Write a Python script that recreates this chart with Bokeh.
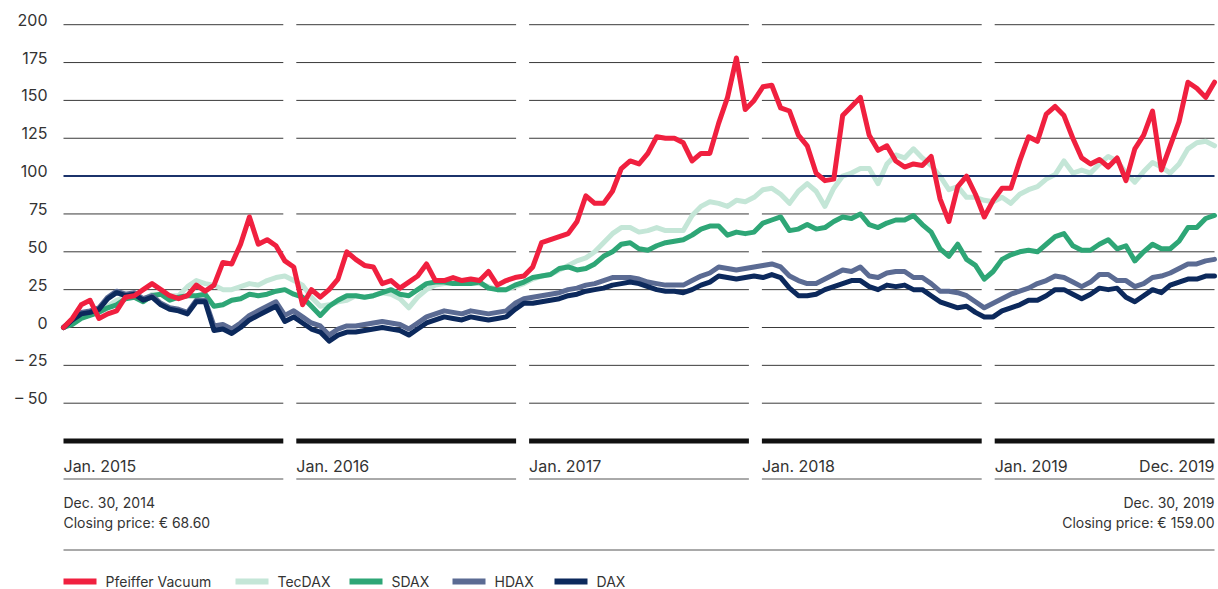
import pandas as pd
from bokeh.plotting import figure
from bokeh.models import Range1d
from bokeh.core.properties import value
from bokeh.embed import file_html
from bokeh.resources import INLINE

# ---------------- data (indexed to 0 % on Dec. 30, 2014) ----------------
dates = pd.date_range("2014-12-30", "2019-12-30", periods=131)

pfeiffer = [0, 6, 15, 18, 6, 9, 11, 20, 21, 25, 29, 25, 21, 19, 21, 28, 24, 28, 43, 42, 55, 73, 55, 58, 54, 44,
            40,
            15, 25, 20, 25, 32, 50, 45, 41, 40, 29, 31, 26, 30, 34, 42, 31, 31, 33, 31, 32, 31, 37, 28, 31, 33,
            34,
            40, 56, 58, 60, 62, 70, 87, 82, 82, 90, 105, 110, 108, 115, 126, 125, 125, 122, 110, 115, 115, 135, 152, 178, 144, 150,
            159,
            160, 145, 143, 127, 120, 102, 97, 98, 140, 146, 152, 127, 117, 120, 110, 106, 108, 107, 113, 85, 70, 93, 100, 88, 73,
            84,
            92, 92, 110, 126, 123, 141, 146, 140, 125, 112, 108, 111, 106, 112, 97, 118, 127, 143, 104, 120, 136, 162, 158, 152, 162]

tecdax = [0, 4, 9, 10, 11, 14, 18, 20, 20, 18, 22, 22, 21, 21, 27, 31, 29, 28, 25, 25, 27, 29, 28, 31, 33, 34,
          31,
          28, 20, 14, 15, 17, 18, 21, 20, 21, 23, 22, 19, 13, 20, 25, 28, 29, 29, 29, 29, 29, 27, 25, 25, 27,
          29,
          32, 34, 35, 38, 41, 44, 46, 50, 56, 62, 66, 66, 63, 64, 66, 64, 64, 64, 74, 80, 83, 82, 80, 84, 83, 86,
          91,
          92, 88, 82, 90, 95, 90, 80, 92, 100, 102, 105, 105, 95, 108, 114, 112, 118, 112, 107, 100, 91, 93, 86, 86, 84,
          83,
          86, 82, 88, 91, 93, 98, 101, 110, 102, 104, 102, 108, 113, 110, 102, 96, 103, 109, 106, 102, 108, 118, 122, 123, 120]

sdax = [0, 2, 6, 8, 10, 13, 15, 19, 20, 17, 21, 22, 18, 20, 21, 21, 22, 14, 15, 18, 19, 22, 21, 22, 24, 25,
        22,
        20, 14, 8, 14, 18, 21, 21, 20, 21, 23, 25, 22, 21, 25, 29, 30, 30, 29, 29, 29, 30, 26, 25, 25, 28,
        30,
        33, 34, 35, 39, 40, 38, 39, 42, 47, 50, 55, 56, 52, 51, 54, 56, 57, 58, 61, 65, 67, 67, 61, 63, 62, 63,
        69,
        71, 73, 64, 65, 68, 65, 66, 70, 73, 72, 75, 68, 66, 69, 71, 71, 74, 68, 63, 52, 47, 55, 45, 41, 32,
        37,
        45, 48, 50, 51, 50, 55, 60, 62, 54, 51, 51, 55, 58, 52, 54, 44, 50, 55, 52, 52, 57, 66, 66, 72, 74]

hdax = [0, 5, 10, 11, 13, 20, 24, 22, 23, 19, 21, 16, 13, 12, 10, 18, 18, 1, 2, -1, 3, 8, 11, 14, 17, 8,
        11,
        7, 3, 1, -5, -1, 1, 1, 2, 3, 4, 3, 2, -1, 3, 7, 9, 11, 10, 9, 11, 10, 9, 10, 11, 16,
        19,
        20, 21, 22, 23, 25, 26, 28, 29, 31, 33, 33, 33, 32, 30, 29, 28, 28, 28, 31, 34, 36, 40, 39, 38, 39, 40,
        41,
        42, 40, 34, 31, 29, 29, 32, 35, 38, 37, 40, 34, 33, 36, 37, 37, 33, 33, 29, 24, 24, 23, 21, 17, 13,
        16,
        19, 22, 24, 26, 29, 31, 34, 33, 30, 27, 30, 35, 35, 31, 31, 27, 29, 33, 34, 36, 39, 42, 42, 44, 45]

dax = [0, 5, 9, 10, 12, 19, 23, 21, 22, 18, 20, 15, 12, 11, 9, 17, 17, -2, -1, -4, 0, 5, 8, 11, 14, 4,
       7,
       3, -1, -3, -9, -5, -3, -3, -2, -1, 0, -1, -2, -5, -1, 3, 5, 7, 6, 5, 7, 6, 5, 6, 7, 12,
       16,
       16, 17, 18, 19, 21, 22, 24, 25, 26, 28, 29, 30, 29, 27, 25, 24, 24, 23, 25, 28, 30, 34, 33, 32, 33, 34,
       33,
       35, 33, 26, 21, 21, 22, 25, 27, 29, 31, 31, 27, 25, 28, 27, 28, 25, 25, 21, 17, 15, 13, 14, 10, 7,
       7,
       11, 13, 15, 18, 18, 21, 25, 25, 22, 19, 22, 26, 25, 26, 20, 17, 21, 25, 23, 28, 30, 32, 32, 34, 34]

series_names = ["Pfeiffer Vacuum", "TecDAX", "SDAX", "HDAX", "DAX"]
series_values = [pfeiffer, tecdax, sdax, hdax, dax]
series_colors = ["#f0203f", "#c4e6d7", "#2ea676", "#5b6b93", "#0c295c"]

y_ticks = [200, 175, 150, 125, 100, 75, 50, 25, 0, -25, -50]
y_tick_labels = ["200", "175", "150", "125", "100", "75", "50", "25", "0", "\u2013 25", "\u2013 50"]
baseline_value = 100
year_labels = ["Jan. 2015", "Jan. 2016", "Jan. 2017", "Jan. 2018", "Jan. 2019"]
end_label = "Dec. 2019"
start_note = ["Dec. 30, 2014", "Closing price: \u20ac 68.60"]
end_note = ["Dec. 30, 2019", "Closing price: \u20ac 159.00"]

# ---------------- layout helpers (canvas pixels -> data) ----------------
W, H = 1218, 589
PX0, PX1 = 63, 1214          # canvas x of first / last date
X0, X1 = dates[0], dates[-1]
Y_ZERO_PX, PX_PER_UNIT = 327.0, 1.514


def xpx(px):
    return (X0 + (X1 - X0) * ((px - PX0) / (PX1 - PX0))).to_pydatetime()


def ypx(py):
    return (Y_ZERO_PX - py) / PX_PER_UNIT


p = figure(width=W, height=H, output_backend="svg", toolbar_location=None,
           x_axis_type="datetime", x_axis_location=None, y_axis_location=None,
           x_range=Range1d(xpx(0), xpx(W)), y_range=Range1d(ypx(H), ypx(0)),
           min_border=0, outline_line_color=None)
p.grid.visible = False
p.background_fill_color = "white"
p.border_fill_color = "white"

FONT = value("Inter")
TXT = "#333333"

# year segments
GAP = 13
seg_w = (PX1 - PX0 - 4 * GAP) / 5
seg_start = [PX0 + k * (seg_w + GAP) for k in range(5)]
seg_end = [s + seg_w for s in seg_start]

# horizontal gridlines per segment
gx0, gx1, gy = [], [], []
for t in y_ticks:
    if t == baseline_value:
        continue
    for s, e in zip(seg_start, seg_end):
        gx0.append(xpx(s)); gx1.append(xpx(e)); gy.append(t)
p.segment(x0=gx0, y0=gy, x1=gx1, y1=gy, line_color="#3a3a3a", line_width=1)

# y tick labels (sit just above their gridline)
p.text(x=[xpx(47)] * len(y_ticks), y=y_ticks, text=y_tick_labels, text_font=FONT,
       text_font_size="16px", text_color=TXT, text_align="right",
       text_baseline="middle", y_offset=-5)

# series lines
order = [1, 2, 3, 4, 0]  # TecDAX, SDAX, HDAX, DAX, Pfeiffer on top
for k in order:
    if k == 2:
        p.segment(x0=[xpx(PX0)], y0=[baseline_value], x1=[xpx(PX1)], y1=[baseline_value],
                  line_color="#1b336b", line_width=2)
    p.line(dates, series_values[k], line_color=series_colors[k], line_width=5,
           line_join="round", line_cap="round")

# thick bars, year labels and thin separators
bar_y = ypx(440.5)
p.segment(x0=[xpx(s) for s in seg_start], y0=[bar_y] * 5, x1=[xpx(e) for e in seg_end],
          y1=[bar_y] * 5, line_color="#111111", line_width=5)
lab_y = ypx(465)
p.text(x=[xpx(s) for s in seg_start], y=[lab_y] * 5, text=year_labels, text_font=FONT,
       text_font_size="16px", text_color=TXT, text_align="left", text_baseline="middle")
p.text(x=[xpx(seg_end[-1])], y=[lab_y], text=[end_label], text_font=FONT,
       text_font_size="16px", text_color=TXT, text_align="right", text_baseline="middle")
sep_y = ypx(478.5)
p.segment(x0=[xpx(s) for s in seg_start], y0=[sep_y] * 5, x1=[xpx(e) for e in seg_end],
          y1=[sep_y] * 5, line_color="#555555", line_width=1)

# closing price notes
note_y = [ypx(502), ypx(522)]
p.text(x=[xpx(PX0)] * 2, y=note_y, text=start_note, text_font=FONT, text_font_size="14px",
       text_color=TXT, text_align="left", text_baseline="middle")
p.text(x=[xpx(PX1)] * 2, y=note_y, text=end_note, text_font=FONT, text_font_size="14px",
       text_color=TXT, text_align="right", text_baseline="middle")

# full-width rule
rule_y = ypx(549.5)
p.segment(x0=[xpx(PX0)], y0=[rule_y], x1=[xpx(PX1)], y1=[rule_y], line_color="#555555", line_width=1)

# legend
leg_start = [63, 235, 349, 452, 554]
leg_y = ypx(581)
p.segment(x0=[xpx(s) for s in leg_start], y0=[leg_y] * 5, x1=[xpx(s + 33) for s in leg_start],
          y1=[leg_y] * 5, line_color=series_colors, line_width=6)
p.text(x=[xpx(s + 42) for s in leg_start], y=[leg_y] * 5, text=series_names, text_font=FONT,
       text_font_size="14px", text_color=TXT, text_align="left", text_baseline="middle")

open("out.html", "w").write(file_html(p, INLINE))
